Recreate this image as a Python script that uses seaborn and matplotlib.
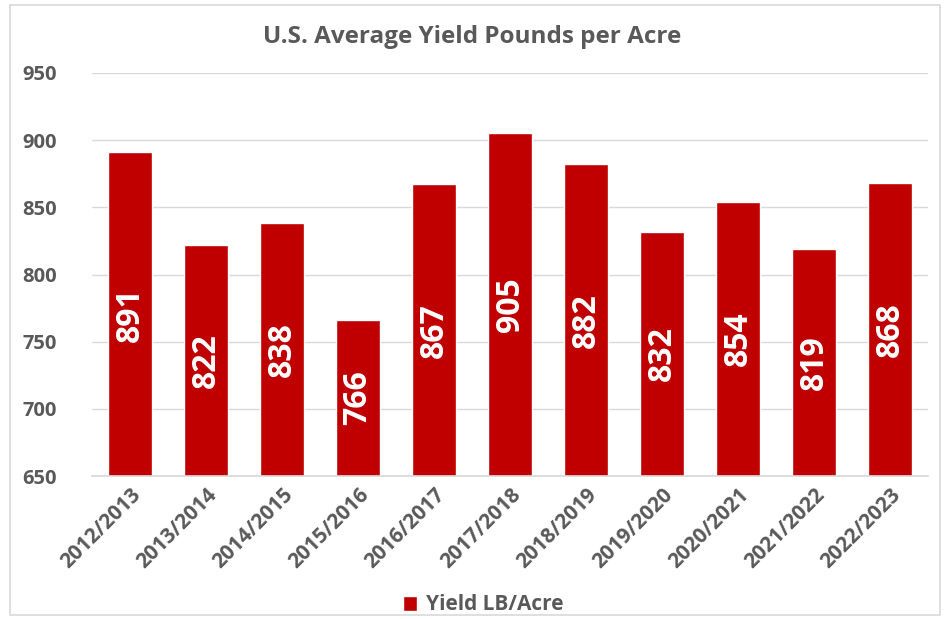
import matplotlib
matplotlib.use("Agg")
import matplotlib.pyplot as plt
import seaborn as sns
import pandas as pd
from matplotlib.patches import Rectangle

seasons = ["2012/2013", "2013/2014", "2014/2015", "2015/2016", "2016/2017", "2017/2018",
           "2018/2019", "2019/2020", "2020/2021", "2021/2022", "2022/2023"]
yields = [891, 822, 838, 766, 867, 905, 882, 832, 854, 819, 868]
yticks = [650, 700, 750, 800, 850, 900, 950]

sns.set_theme(style="white")
plt.rcParams['font.family'] = ['Open Sans', 'DejaVu Sans']

df = pd.DataFrame({"Season": seasons, "Yield": yields})
gray = "#595959"
red = "#C00000"

fig = plt.figure(figsize=(9.45, 6.19), dpi=100)
ax = fig.add_axes([92/945, 1-476/619, (928-92)/945, (476-73)/619])

sns.barplot(data=df, x="Season", y="Yield", color=red, saturation=1, width=0.58, ax=ax,
            label="Yield LB/Acre")
ax.set_ylim(650, 950)
ax.set_yticks(yticks)
ax.yaxis.grid(True, color="#d9d9d9", linewidth=1)
ax.set_axisbelow(True)
for s in ax.spines.values():
    s.set_visible(False)
ax.spines['bottom'].set_visible(True)
ax.spines['bottom'].set_color("#d9d9d9")
ax.set_xlabel("")
ax.set_ylabel("")
ax.tick_params(axis='both', length=0)
ax.set_yticklabels([str(v) for v in yticks], color=gray, fontsize=14.5, fontweight='bold')
ax.tick_params(axis='y', pad=50)
for lbl in ax.get_yticklabels():
    lbl.set_horizontalalignment('left')
ax.set_xticks(range(len(seasons)))
ax.set_xticklabels(seasons, rotation=45, ha='right', rotation_mode='anchor',
                   color=gray, fontsize=15, fontweight='bold')
ax.tick_params(axis='x', pad=6)

for i, v in enumerate(yields):
    ax.text(i, (650 + v) / 2, str(v), rotation=90, ha='center', va='center',
            color='white', fontsize=23, fontweight='bold')

fig.text(0.5, 1-37/619, "U.S. Average Yield Pounds per Acre", ha='center', va='center',
         color=gray, fontsize=17.5, fontweight='bold')

leg = ax.legend(loc='center', bbox_to_anchor=((483-92)/836, (476-605)/403), frameon=False,
                handlelength=0.7, handleheight=0.7, handletextpad=0.4,
                prop={'size': 15, 'weight': 'bold'})
for t in leg.get_texts():
    t.set_color(gray)

fig.patches.append(Rectangle((10/945, 1-615/619), 930/945, 610/619, transform=fig.transFigure,
                             fill=False, edgecolor="#d9d9d9", linewidth=1.2))

fig.savefig("out.png", dpi=100)
